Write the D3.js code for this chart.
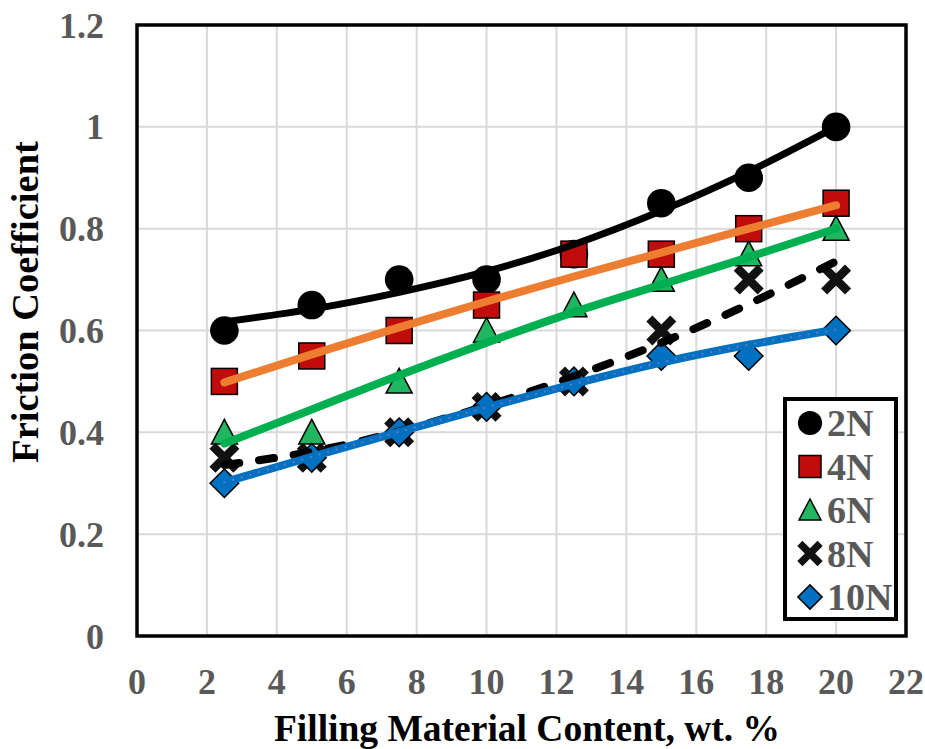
<!DOCTYPE html>
<html>
<head>
<meta charset="utf-8">
<script src="https://cdn.jsdelivr.net/npm/d3@7"></script>
<style>
  body { margin: 0; background: #fff; }
  svg text { font-family: "Times New Roman", "Liberation Serif", serif; font-weight: bold; }
</style>
</head>
<body>
<div id="chart"></div>
<script>
// filling content (wt. %)
const content = [2.5, 5, 7.5, 10, 12.5, 15, 17.5, 20];

// measured friction coefficients per load
const load2N = [0.6, 0.65, 0.7, 0.7, 0.75, 0.85, 0.9, 1.0];
const load4N = [0.5, 0.55, 0.6, 0.65, 0.75, 0.75, 0.8, 0.85];
const load6N = [0.4, 0.4, 0.5, 0.6, 0.65, 0.7, 0.75, 0.8];
const load8N = [0.35, 0.35, 0.4, 0.45, 0.5, 0.6, 0.7, 0.7];
const load10N = [0.3, 0.35, 0.4, 0.45, 0.5, 0.55, 0.55, 0.6];

// trend lines at the same contents
const trend2N = [0.617, 0.642, 0.675, 0.716, 0.769, 0.835, 0.912, 1.0];
const trend4N = [0.498, 0.553, 0.606, 0.657, 0.706, 0.753, 0.8, 0.846];
const trend6N = [0.378, 0.445, 0.512, 0.576, 0.636, 0.69, 0.744, 0.8];
const trend8N = [0.336, 0.362, 0.402, 0.452, 0.51, 0.576, 0.652, 0.736];
const trend10N = [0.302, 0.352, 0.401, 0.449, 0.495, 0.537, 0.572, 0.602];

const xTicks = [0, 2, 4, 6, 8, 10, 12, 14, 16, 18, 20, 22];
const yTicks = [0, 0.2, 0.4, 0.6, 0.8, 1, 1.2];

const W = 925, H = 749;
const pLeft = 137, pRight = 906, pTop = 25, pBottom = 636;

const svg = d3.select("#chart").append("svg")
  .attr("width", W).attr("height", H);

const x = d3.scaleLinear().domain([0, 22]).range([pLeft, pRight]);
const y = d3.scaleLinear().domain([0, 1.2]).range([pBottom, pTop]);

// gridlines
svg.append("g").selectAll("line").data(xTicks).enter().append("line")
  .attr("x1", d => x(d)).attr("x2", d => x(d))
  .attr("y1", pTop).attr("y2", pBottom)
  .attr("stroke", "#d9d9d9").attr("stroke-width", 2);
svg.append("g").selectAll("line").data(yTicks).enter().append("line")
  .attr("x1", pLeft).attr("x2", pRight)
  .attr("y1", d => y(d)).attr("y2", d => y(d))
  .attr("stroke", "#d9d9d9").attr("stroke-width", 2);

// tick labels
svg.append("g").selectAll("text").data(xTicks).enter().append("text")
  .attr("x", d => x(d)).attr("y", 694)
  .attr("text-anchor", "middle")
  .attr("font-size", 36).attr("fill", "#595959")
  .text(d => d);
svg.append("g").selectAll("text").data(yTicks).enter().append("text")
  .attr("x", 104).attr("y", d => y(d))
  .attr("dy", "0.35em")
  .attr("text-anchor", "end")
  .attr("font-size", 36).attr("fill", "#595959")
  .text(d => d3.format("~g")(d));

// axis titles
svg.append("text")
  .attr("x", 527).attr("y", 741)
  .attr("text-anchor", "middle").attr("font-size", 37.5).attr("fill", "#000")
  .text("Filling Material Content, wt. %");
svg.append("text")
  .attr("transform", "translate(38," + 302 + ") rotate(-90)")
  .attr("text-anchor", "middle").attr("font-size", 38.5).attr("fill", "#000")
  .text("Friction Coefficient");

// plot border
svg.append("rect")
  .attr("x", pLeft).attr("y", pTop)
  .attr("width", pRight - pLeft).attr("height", pBottom - pTop)
  .attr("fill", "none").attr("stroke", "#000").attr("stroke-width", 3.5);

// marker shapes
const drawMarker = (g, type, s) => {
  if (type === "circle") {
    g.append("circle").attr("r", s * 0.55).attr("fill", "#000");
  } else if (type === "square") {
    g.append("rect").attr("x", -s / 2).attr("y", -s / 2)
      .attr("width", s).attr("height", s)
      .attr("fill", "#c00d0b").attr("stroke", "#000").attr("stroke-width", 1.5);
  } else if (type === "triangle") {
    g.append("path")
      .attr("d", `M0,${-s * 0.5}L${s * 0.5},${s * 0.45}L${-s * 0.5},${s * 0.45}Z`)
      .attr("fill", "#20b760").attr("stroke", "#000").attr("stroke-width", 1.5);
  } else if (type === "cross") {
    const a = s * 0.46;
    g.append("path")
      .attr("d", `M${-a},${-a}L${a},${a}M${a},${-a}L${-a},${a}`)
      .attr("stroke", "#111").attr("stroke-width", s * 0.33);
  } else if (type === "diamond") {
    const a = s * 0.55;
    g.append("path")
      .attr("d", `M0,${-a}L${a},0L0,${a}L${-a},0Z`)
      .attr("fill", "#0070c0").attr("stroke", "#000").attr("stroke-width", 1.5);
  }
};

const series = [
  { name: "2N", values: load2N, trend: trend2N, marker: "circle" },
  { name: "4N", values: load4N, trend: trend4N, marker: "square" },
  { name: "6N", values: load6N, trend: trend6N, marker: "triangle" },
  { name: "8N", values: load8N, trend: trend8N, marker: "cross" },
  { name: "10N", values: load10N, trend: trend10N, marker: "diamond" },
];

// markers first, trend lines go on top
for (const s of series) {
  const g = svg.append("g");
  s.values.forEach((v, i) => {
    const m = g.append("g").attr("transform", `translate(${x(content[i])},${y(v)})`);
    drawMarker(m, s.marker, 26);
  });
}

const line = d3.line()
  .x((d, i) => x(content[i]))
  .y(d => y(d))
  .curve(d3.curveNatural);

svg.append("path").datum(trend2N).attr("d", line)
  .attr("fill", "none").attr("stroke", "#000").attr("stroke-width", 7)
  .attr("stroke-linecap", "round");
svg.append("path").datum(trend4N).attr("d", line)
  .attr("fill", "none").attr("stroke", "#ed7d31").attr("stroke-width", 8)
  .attr("stroke-linecap", "round");
svg.append("path").datum(trend6N).attr("d", line)
  .attr("fill", "none").attr("stroke", "#00b050").attr("stroke-width", 8)
  .attr("stroke-linecap", "round");
svg.append("path").datum(trend8N).attr("d", line)
  .attr("fill", "none").attr("stroke", "#000").attr("stroke-width", 8)
  .attr("stroke-dasharray", "15,20").attr("stroke-linecap", "round");
svg.append("path").datum(trend10N).attr("d", line)
  .attr("fill", "none").attr("stroke", "#0070c0").attr("stroke-width", 8)
  .attr("stroke-linecap", "round");
svg.append("path").datum(trend10N).attr("d", line)
  .attr("fill", "none").attr("stroke", "#5b74cc").attr("stroke-width", 2.5)
  .attr("stroke-dasharray", "0,9").attr("stroke-linecap", "round");

// legend
const lg = svg.append("g");
lg.append("rect")
  .attr("x", 785).attr("y", 399).attr("width", 111).attr("height", 220)
  .attr("fill", "#fff").attr("stroke", "#000").attr("stroke-width", 4);
series.forEach((s, i) => {
  const cy = 423 + i * 43.5;
  const m = lg.append("g").attr("transform", `translate(810,${cy})`);
  drawMarker(m, s.marker, 22);
  lg.append("text")
    .attr("x", 827).attr("y", cy).attr("dy", "0.35em")
    .attr("font-size", 38).attr("fill", "#595959")
    .text(s.name);
});
</script>
</body>
</html>
